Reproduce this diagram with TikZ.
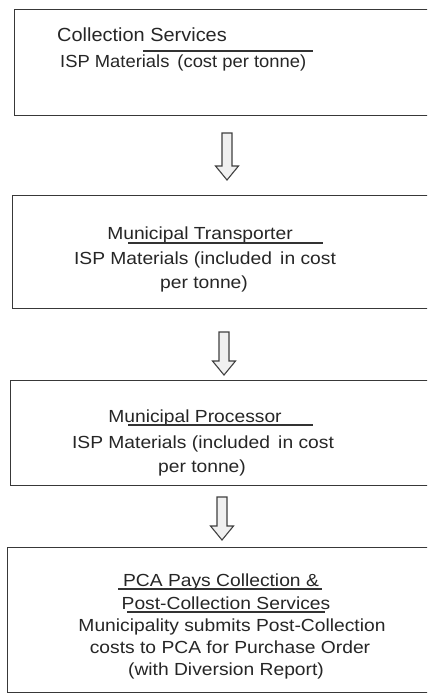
\documentclass[tikz,border=0pt]{standalone}
\usepackage{fontspec}
\setmainfont{Liberation Sans}
\newfontfamily\boxonefont{Liberation Sans}[FakeStretch=1.05]
\newfontfamily\boxfont{Liberation Sans}[FakeStretch=1.1]
\usetikzlibrary{calc}
\tikzset{
  boxst/.style={draw=black!78, line width=1.3bp, inner sep=0pt, anchor=north west},
  txtone/.style={inner sep=0pt, text=black!85, font=\boxonefont\fontsize{18.5bp}{22bp}\selectfont},
  txt/.style={inner sep=0pt, anchor=base, text=black!85, font=\boxfont\fontsize{17.5bp}{22bp}\selectfont},
  uline/.style={draw=black!80, line width=1.1bp},
  barrow/.style={draw=black!75, line width=1.1bp, fill=black!6, line join=miter},
}
\newcommand\blockarrow[2]{%
  \draw[barrow] ($(#1)+(-5,0)$) -- ($(#2)+(-5,-14)$) -- ($(#2)+(-11.5,-14)$) -- (#2)
    -- ($(#2)+(11.5,-14)$) -- ($(#2)+(5,-14)$) -- ($(#1)+(5,0)$) -- cycle;}
\begin{document}
\begin{tikzpicture}[x=1bp,y=-1bp]
\clip (0,0) rectangle (427,699);
\fill[white] (0,0) rectangle (427,699);
% boxes
\node[boxst, minimum width=440bp, minimum height=106bp] (b1) at (14,9) {};
\node[boxst, minimum width=440bp, minimum height=113bp] (b2) at (12,195) {};
\node[boxst, minimum width=440bp, minimum height=105bp] (b3) at (10,380) {};
\node[boxst, minimum width=440bp, minimum height=145bp] (b4) at (7,547) {};
% box 1 text
\node[txtone, anchor=base west, font=\boxonefont\fontsize{19bp}{22bp}\selectfont] (t11) at (57,42) {Collection Services};
\node[txtone, anchor=base west, font=\boxonefont\fontsize{17.5bp}{22bp}\selectfont] (t12) at (60,68) {ISP Materials\, (cost per tonne)};
\coordinate (u1a) at (143,51); \coordinate (u1b) at (313,51);
\draw[uline] (u1a) -- (u1b);
% box 2 text
\node[txt] (t21) at (200,239) {Municipal Transporter};
\node[txt] (t22) at (205,264) {ISP Materials (included\, in cost};
\node[txt] (t23) at (204,288) {per tonne)};
\coordinate (u2a) at (128,243); \coordinate (u2b) at (323,243);
\draw[uline] (u2a) -- (u2b);
% box 3 text
\node[txt] (t31) at (195,422) {Municipal Processor};
\node[txt] (t32) at (203,448) {ISP Materials (included\, in cost};
\node[txt] (t33) at (202,472) {per tonne)};
\coordinate (u3a) at (128,425); \coordinate (u3b) at (313,425);
\draw[uline] (u3a) -- (u3b);
% box 4 text
\node[txt] (t41) at (221,586) {PCA Pays Collection \&};
\node[txt] (t42) at (226,609) {Post-Collection Services};
\node[txt] (t43) at (232,631) {Municipality submits Post-Collection};
\node[txt] (t44) at (230,653) {costs to PCA for Purchase Order};
\node[txt] (t45) at (226,675) {(with Diversion Report)};
\coordinate (u4a) at (118,589); \coordinate (u4b) at (322,589);
\coordinate (u4c) at (127,612); \coordinate (u4d) at (325,612);
\draw[uline] (u4a) -- (u4b);
\draw[uline] (u4c) -- (u4d);
% arrows
\coordinate (a1s) at (227,133); \coordinate (a1e) at (227,180);
\coordinate (a2s) at (224,332); \coordinate (a2e) at (224,375);
\coordinate (a3s) at (222,497); \coordinate (a3e) at (222,540);
\blockarrow{a1s}{a1e}
\blockarrow{a2s}{a2e}
\blockarrow{a3s}{a3e}
\end{tikzpicture}
\end{document}
